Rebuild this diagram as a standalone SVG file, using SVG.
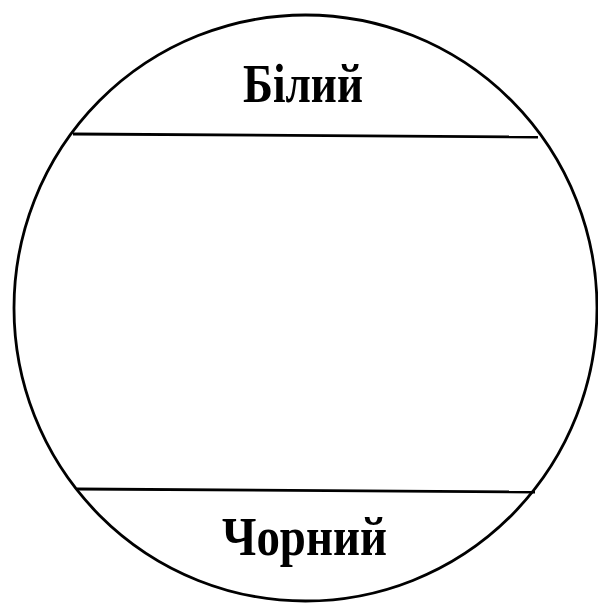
<svg xmlns="http://www.w3.org/2000/svg" width="598" height="604" viewBox="0 0 598 604">
<style>
.ln{fill:none;stroke:#000;stroke-width:2.8}
.lb{font-family:"Liberation Serif","Times New Roman",serif;font-weight:bold;font-size:54px;fill:#000;text-anchor:middle}
</style>
<rect width="598" height="604" fill="#fff"/>
<g id="circle"><ellipse class="ln" cx="305.5" cy="308" rx="291.5" ry="293"/></g>
<g id="connectors">
<line class="ln" x1="73" y1="134" x2="538" y2="137"/>
<line class="ln" x1="77" y1="489" x2="535" y2="492"/>
</g>
<g id="white"><text class="lb" x="303" y="102" textLength="120" lengthAdjust="spacingAndGlyphs">Білий</text></g>
<g id="black"><text class="lb" x="304.5" y="555" textLength="165" lengthAdjust="spacingAndGlyphs">Чорний</text></g>
</svg>
